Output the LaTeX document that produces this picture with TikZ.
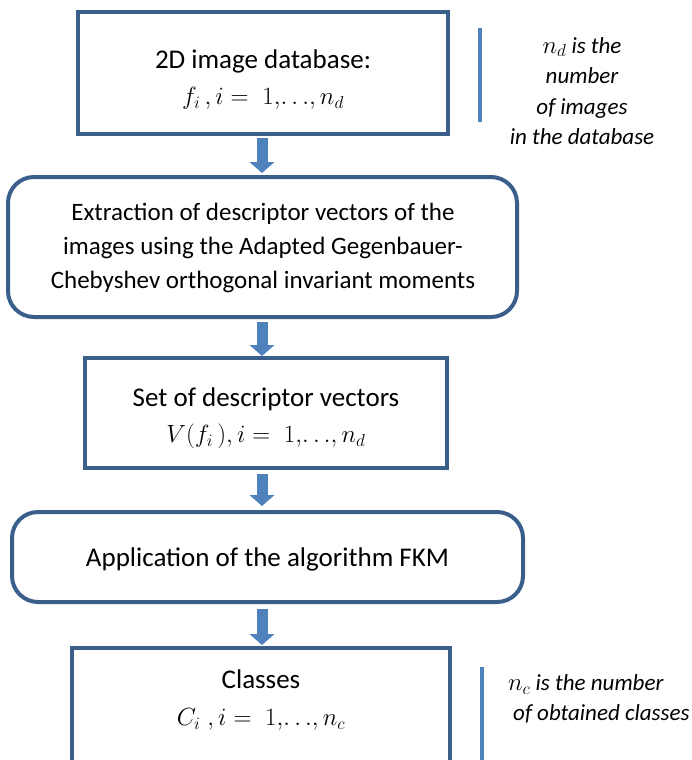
\documentclass[tikz,border=0pt]{standalone}
\usepackage{fontspec}
\setmainfont{Carlito}
\usetikzlibrary{arrows.meta}
\definecolor{boxline}{RGB}{58,95,139}
\definecolor{arrowblue}{RGB}{79,129,189}
\begin{document}
\begin{tikzpicture}[x=1pt,y=-1pt,
  box/.style={draw=boxline,line width=4pt,fill=white,inner sep=0pt},
  rbox/.style={box,rounded corners=26pt},
  txt/.style={font=\fontsize{27}{31}\selectfont,align=center,inner sep=0pt},
  txtb/.style={font=\fontsize{25}{34}\selectfont,align=center,inner sep=0pt},
  side/.style={font=\fontsize{23}{30.5}\selectfont\itshape,inner sep=0pt},
  flow/.style={draw=arrowblue,line width=11pt,-{Triangle[width=25pt,length=11pt,line width=0pt]}},
  sideline/.style={draw=arrowblue,line width=3.5pt}]
\useasboundingbox (0,0) rectangle (691,760);
% boxes
\node[box,minimum width=370pt,minimum height=122pt] (b1) at (263,73) {};
\node[rbox,minimum width=509pt,minimum height=140pt] (b2) at (262.5,247) {};
\node[box,minimum width=362pt,minimum height=110pt] (b3) at (266,413) {};
\node[rbox,minimum width=511pt,minimum height=90pt] (b4) at (267.5,557) {};
\node[box,minimum width=378pt,minimum height=150pt] (b5) at (261,723) {};
% texts
\node[txt] (t1) at (263,80) {2D image database:\\[5pt]$f_i\,,i=\;1,\!\ldots\!,n_d$};
\node[txtb] (t2) at (263,247.5) {Extraction of descriptor vectors of the\\images using the Adapted Gegenbauer-\\Chebyshev orthogonal invariant moments};
\node[txt] (t3) at (266,418) {Set of descriptor vectors\\[5pt]$V(f_i\,),i=\;1,\!\ldots\!,n_d$};
\node[txt] (t4) at (267.5,559) {Application of the algorithm FKM};
\node[txt] (t5) at (261,700.5) {Classes\\[6pt]$C_i\;,i=\;1,\!\ldots\!,n_c$};
% arrows
\coordinate (a1s) at (262,138); \coordinate (a1e) at (262,173);
\coordinate (a2s) at (262,322); \coordinate (a2e) at (262,356);
\coordinate (a3s) at (262,474); \coordinate (a3e) at (262,506);
\coordinate (a4s) at (262,609); \coordinate (a4e) at (262,645);
\draw[flow] (a1s) -- (a1e);
\draw[flow] (a2s) -- (a2e);
\draw[flow] (a3s) -- (a3e);
\draw[flow] (a4s) -- (a4e);
% side notes
\coordinate (s1a) at (480,28); \coordinate (s1b) at (480,122);
\draw[sideline] (s1a) -- (s1b);
\node[side,align=center] (n1) at (582,91) {$n_d$ is the\\number\\of images\\in the database};
\coordinate (s2a) at (482,667); \coordinate (s2b) at (482,770);
\draw[sideline] (s2a) -- (s2b);
\node[side,align=left,anchor=west] (n2) at (508,699) {$n_c$ is the number\\\hspace*{5pt}of obtained classes};
\end{tikzpicture}
\end{document}
